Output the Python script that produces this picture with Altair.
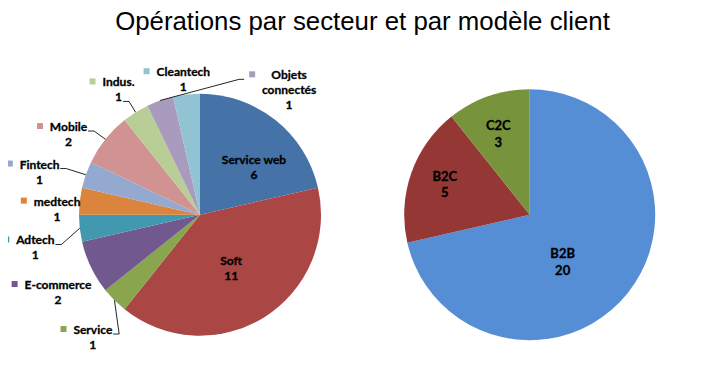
import math
import altair as alt
import pandas as pd

TITLE = "Opérations par secteur et par modèle client"

# ---- data -------------------------------------------------------------
sector_names = ["Service web", "Soft", "Service", "E-commerce", "Adtech", "medtech",
                "Fintech", "Mobile", "Indus.", "Objets connectés", "Cleantech"]
sector_values = [6, 11, 1, 2, 1, 1, 1, 2, 1, 1, 1]
sector_colors = ["#4572A7", "#AA4643", "#89A54E", "#71588F", "#4198AF", "#DB843D",
                 "#93A9CF", "#D19392", "#B9CD96", "#A99BBD", "#92C3D3"]

model_names = ["B2B", "B2C", "C2C"]
model_values = [20, 5, 3]
model_colors = ["#558ED5", "#953735", "#77933C"]

# ---- layout (view pixels) ---------------------------------------------
LEFT = dict(cx=192.0, cy=206.7, r=121.0)
RIGHT = dict(cx=521.7, cy=206.7, r=125.5)

# label placement: (distance from centre, angle nudge in degrees, inside/outside)
sector_label_pos = {
    "Service web": (72, 10.0, "in"),
    "Soft": (62, 2.0, "in"),
    "Service": (163, -3.9, "out"),
    "E-commerce": (162, -3.0, "out"),
    "Adtech": (168, -5.0, "out"),
    "medtech": (143, -4.2, "out"),
    "Fintech": (166, -4.4, "out"),
    "Mobile": (154, -7.2, "out"),
    "Indus.": (149, -1.0, "out"),
    "Objets connectés": (153, 54.9, "out"),
    "Cleantech": (136, -0.6, "out"),
}
model_label_pos = {
    "B2B": (58, 16.8, "in"),
    "B2C": (90, 0.0, "in"),
    "C2C": (86, -2.1, "in"),
}
label_lines = {"Objets connectés": "Objets\nconnectés"}
leader_labels = {"Objets connectés", "Indus.", "Mobile", "Fintech", "Adtech", "Service"}

# approximate glyph widths (em) used only to place the legend keys / leader ends
GW = {"a": .52, "b": .57, "c": .46, "d": .57, "e": .53, "f": .34, "g": .51, "h": .57,
      "i": .26, "j": .26, "k": .53, "l": .26, "m": .85, "n": .57, "o": .57, "p": .57,
      "q": .57, "r": .39, "s": .43, "t": .37, "u": .57, "v": .53, "w": .80, "x": .52,
      "y": .53, "z": .46, "é": .53, " ": .19, "-": .36, ".": .24,
      "A": .68, "B": .65, "C": .65, "E": .55, "F": .53, "I": .29, "M": .90, "O": .78,
      "S": .52}


def text_w(s, size):
    return sum(GW.get(ch, .58) for ch in s) * size


def build(names, values, colors, geom, placement, font_size, line_h):
    total = float(sum(values))
    cum = 0.0
    arcs, texts, keys, leads = [], [], [], []
    cx, cy, R = geom["cx"], geom["cy"], geom["r"]
    for i, (n, v, c) in enumerate(zip(names, values, colors)):
        mid = (cum + v / 2.0) / total * 360.0
        cum += v
        arcs.append(dict(idx=i, name=n, value=v, color=c))
        rad, nudge, kind = placement[n]
        a = math.radians(mid + nudge)
        bx = cx + rad * math.sin(a)
        by = cy - rad * math.cos(a)
        lines = label_lines.get(n, n).split("\n") + [str(v)]
        k = len(lines)
        y0 = by - (k - 1) / 2.0 * line_h
        for j, t in enumerate(lines):
            texts.append(dict(t=t, x=bx, y=y0 + j * line_h))
        if kind == "out":
            wmax = max(text_w(t, font_size) for t in lines[:-1])
            mx = bx - wmax / 2.0 - 10
            keys.append(dict(name=n, x=mx, y=y0 - 1, color=c))
            if n in leader_labels:
                am = math.radians(mid)
                ex, ey = cx + R * math.sin(am), cy - R * math.cos(am)
                if bx > ex:
                    px, py = mx - 8, y0 + 4
                    pts = [(ex, ey), (px - 5, py), (px, py)]
                else:
                    j = k - 1 if ey > y0 + (k - 1) * line_h else 0
                    lw = text_w(lines[j], font_size)
                    px, py = bx + lw / 2.0 + 1, y0 + j * line_h + 4
                    pts = [(px, py), (px + 6, py), (ex, ey)]
                for o, (x, y) in enumerate(pts):
                    leads.append(dict(name=n, o=o, x=x, y=y))
    return (pd.DataFrame(arcs), pd.DataFrame(texts),
            pd.DataFrame(keys, columns=["name", "x", "y", "color"]),
            pd.DataFrame(leads, columns=["name", "o", "x", "y"]))


s_arc, s_txt, s_key, s_lead = build(sector_names, sector_values, sector_colors,
                                    LEFT, sector_label_pos, 12, 15)
m_arc, m_txt, m_key, m_lead = build(model_names, model_values, model_colors,
                                    RIGHT, model_label_pos, 13, 16.5)


def pie(df, geom):
    return alt.Chart(df).mark_arc(outerRadius=geom["r"]).encode(
        theta=alt.Theta("value:Q", stack=True),
        color=alt.Color("color:N", scale=None),
        order=alt.Order("idx:Q", sort="ascending"),
        x=alt.value(geom["cx"]),
        y=alt.value(geom["cy"]),
    )


def labels(df, size):
    return alt.Chart(df).mark_text(font="Lato", fontWeight="bold", fontSize=size,
                                   align="center", baseline="middle", color="#000000",
                                   stroke="#000000", strokeWidth=0.3).encode(
        x=alt.X("x:Q", scale=None, axis=None),
        y=alt.Y("y:Q", scale=None, axis=None),
        text="t:N",
    )


leaders = alt.Chart(s_lead).mark_line(color="#262626", strokeWidth=1).encode(
    x=alt.X("x:Q", scale=None, axis=None),
    y=alt.Y("y:Q", scale=None, axis=None),
    detail="name:N",
    order="o:Q",
)

keys = alt.Chart(s_key).mark_square(size=36, opacity=1, filled=True).encode(
    x=alt.X("x:Q", scale=None, axis=None),
    y=alt.Y("y:Q", scale=None, axis=None),
    color=alt.Color("color:N", scale=None),
)

title = alt.Chart(pd.DataFrame({"t": [TITLE]})).mark_text(
    font="Liberation Sans", fontSize=25.8, align="center", baseline="alphabetic",
    color="#000000").encode(text="t:N", x=alt.value(354.5), y=alt.value(22))

chart = alt.layer(
    pie(s_arc, LEFT), pie(m_arc, RIGHT), leaders, keys,
    labels(s_txt, 12), labels(m_txt, 13), title,
).resolve_scale(theta="independent").properties(
    width=694, height=359, autosize="none", padding=0
).configure_view(strokeWidth=0)

chart.save("out.html", embed_options={"renderer": "svg", "actions": False})
